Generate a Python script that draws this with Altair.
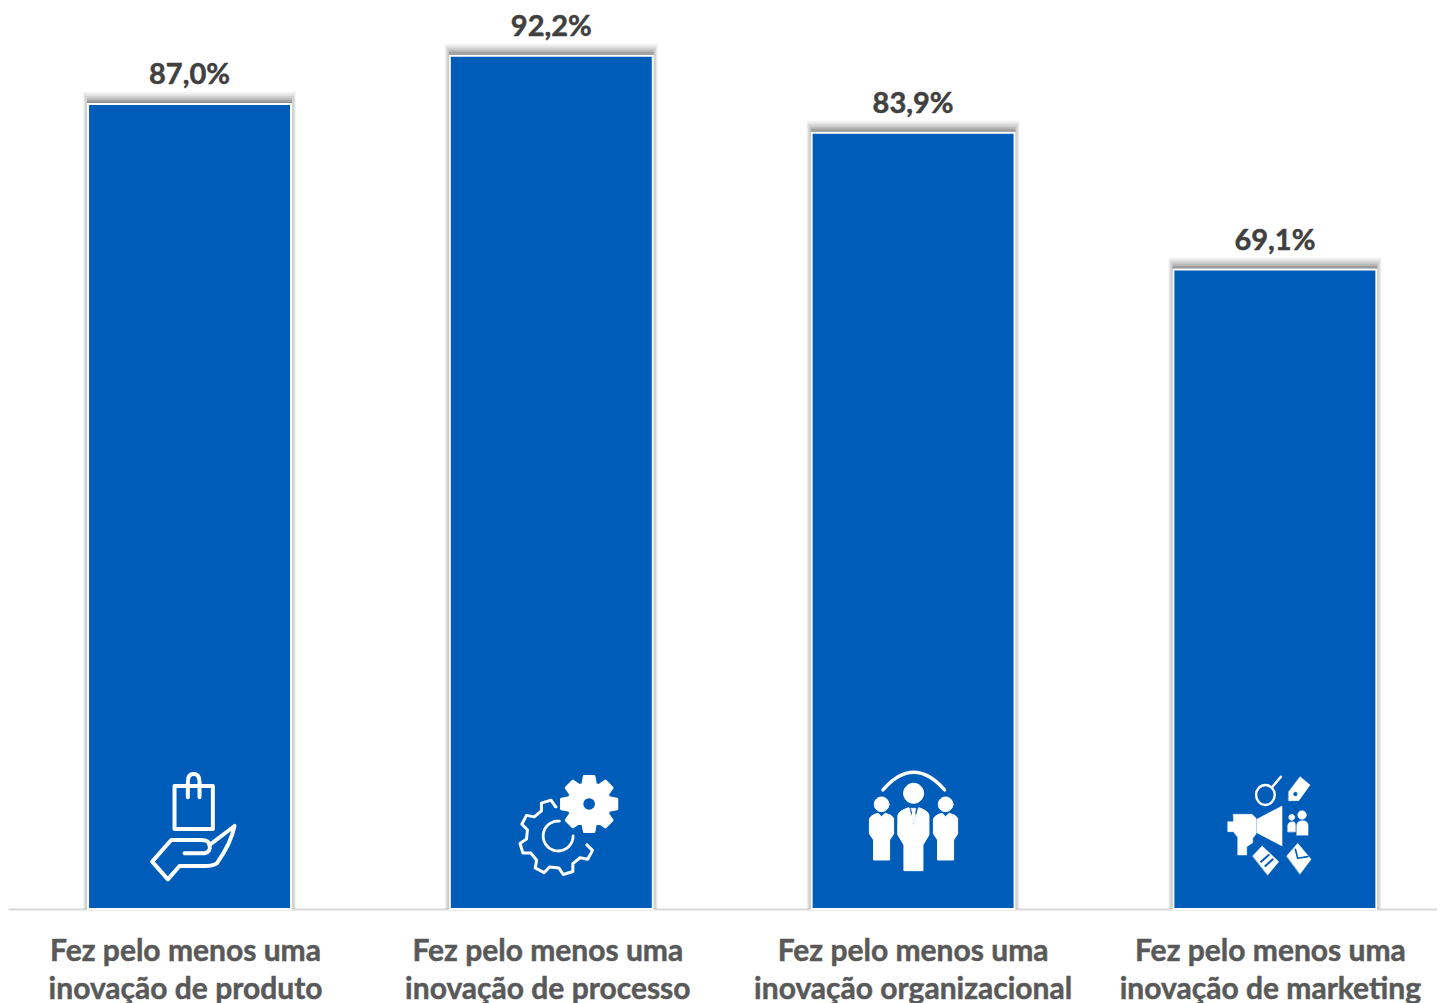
import math
import re
import altair as alt
import pandas as pd

categories = ["produto", "processo", "organizacional", "marketing"]
values = [87.0, 92.2, 83.9, 69.1]
axis_labels = [
    "Fez pelo menos uma\ninovação de produto",
    "Fez pelo menos uma\ninovação de processo",
    "Fez pelo menos uma\ninovação organizacional",
    "Fez pelo menos uma\ninovação de marketing",
]
label_nudges = [-4, -3.5, 0, -4.5]
value_labels = [f"{v:.1f}".replace(".", ",") + "%" for v in values]

BLUE = "#005CB9"
WHITE = "#FFFFFF"
FONT = "Lato"
ICON_Y = 9.08
df = pd.DataFrame({"cat": categories, "value": values, "label": value_labels})
x_scale = alt.Scale(domain=categories, paddingInner=0.439, paddingOuter=0.1944, align=0.569, round=False)
y_scale = alt.Scale(domain=[0, 97.37], nice=False, zero=False)
X = alt.X("cat:N", scale=x_scale, sort=None, title=None,
          axis=alt.Axis(labels=False, ticks=False, grid=False, domainColor="#D9D9D9", domainWidth=2))
Y = alt.Y("value:Q", scale=y_scale, stack=None, title=None, axis=None)


def circle(cx, cy, r, ry=None, reverse=False):
    ry = ry or r
    k = 0.5523
    s = -1 if reverse else 1
    return (f"M{cx+r},{cy} C{cx+r},{cy+s*k*ry} {cx+k*r},{cy+s*ry} {cx},{cy+s*ry} "
            f"C{cx-k*r},{cy+s*ry} {cx-r},{cy+s*k*ry} {cx-r},{cy} "
            f"C{cx-r},{cy-s*k*ry} {cx-k*r},{cy-s*ry} {cx},{cy-s*ry} "
            f"C{cx+k*r},{cy-s*ry} {cx+r},{cy-s*k*ry} {cx+r},{cy} Z ")


def gear(cx, cy, outer, root, teeth, half, closed=True, start=None, end=None):
    pts = []
    if start is not None:
        pts.append((root, start))
    for t in teeth:
        pts += [(root, t - half * 1.25), (outer, t - half * 0.7), (outer, t + half * 0.7), (root, t + half * 1.25)]
    if end is not None:
        pts.append((root, end))
    xy = [(cx + r * math.cos(math.radians(a)), cy + r * math.sin(math.radians(a))) for r, a in pts]
    d = "M" + " L".join(f"{a:.1f},{b:.1f}" for a, b in xy)
    return d + (" Z " if closed else " ")


def arc(cx, cy, r, a0, a1, n=24):
    xy = [(cx + r * math.cos(math.radians(a0 + (a1 - a0) * i / n)),
           cy + r * math.sin(math.radians(a0 + (a1 - a0) * i / n))) for i in range(n + 1)]
    return "M" + " L".join(f"{a:.1f},{b:.1f}" for a, b in xy)


def person(dx):
    return (circle(96 + dx, 133, 22) +
            f"M{60+dx},175 Q{65+dx},165 {85+dx},160 L{96+dx},170 L{107+dx},160 Q{128+dx},165 {132+dx},175 "
            f"L{132+dx},222 L{120+dx},240 L{120+dx},300 L{72+dx},300 L{72+dx},240 L{60+dx},222 Z")


# Icon glyphs: (bar index, path in 3x crop coordinates, fill?, colour, stroke width)
A = [180, 154.5, 190.5, 196.5]
glyphs = [
    (0, "M135,78 L250,78 L250,207 L135,207 Z", False, WHITE, 4),
    (0, "M175,112 L175,65 Q175,42 192,42 Q210,42 210,65 L210,112", False, WHITE, 4),
    (0, "M68,305 L125,240 L215,240 Q238,240 240,255 L315,198 Q305,250 262,310 Q250,318 225,318 L150,318 L115,358 Z", False, WHITE, 4),
    (0, "M165,280 L225,280 Q245,275 240,255", False, WHITE, 4),
    (1, gear(268, 132, 84, 62, [-90, -45, 0, 45, 90, 135, 180, 225], 14) + circle(268, 132, 22, reverse=True), True, WHITE, 3),
    (1, gear(172, 232, 113, 92, [-332, -287, -242, -197, -152, -107], 11, closed=False, start=-346, end=-92), False, WHITE, 3),
    (1, arc(175, 228, 45, -85, -360), False, WHITE, 2.8),
    (2, "M100,90 Q192,-16 285,90", False, WHITE, 3.4),
    (2, person(0), True, WHITE, 1),
    (2, person(192), True, WHITE, 1),
    (2, circle(192, 100, 30), True, WHITE, 1),
    (2, "M145,165 Q148,152 178,143 L192,198 L207,143 Q235,152 238,165 L238,225 L220,255 L220,332 L163,332 L163,255 L145,225 Z", True, WHITE, 1),
    (2, "M184,145 L199,145 L196,158 L199,172 L192,190 L185,172 L188,158 Z", True, WHITE, 0.5),
    (3, "M142,178 L218,138 L218,258 L142,218 Z", True, WHITE, 0.5),
    (3, "M72,163 L128,163 L140,175 L140,222 L130,235 L130,248 L112,260 L112,285 L85,285 L85,232 L72,215 L55,215 L55,185 L72,185 Z", True, WHITE, 0.5),
    (3, circle(168, 105, 28, 30), False, WHITE, 2.4),
    (3, "M188,82 L215,50", False, WHITE, 2.4),
    (3, "M238,95 L272,50 L302,75 L268,122 L238,122 Z " + circle(258, 102, 7, reverse=True), True, WHITE, 0.5),
    (3, circle(247, 172, 9) + circle(278, 165, 13), True, WHITE, 0.5),
    (3, "M235,215 L235,195 Q238,185 250,185 Q258,185 258,195 L258,215 Z M262,225 L262,195 Q265,182 278,182 Q295,182 296,195 L296,225 Z", True, WHITE, 0.5),
    (3, "M130,288 L158,258 L208,305 L175,345 Z", True, WHITE, 0.5),
    (3, "M155,305 L178,285 M168,318 L190,298", False, BLUE, 2),
    (3, "M232,288 L265,250 L305,298 L272,342 Z", True, WHITE, 0.5),
    (3, "M258,268 L265,295 L295,290", False, BLUE, 1.6),
]


def shifted(path, ax, ay=195):
    def repl(m):
        return f"{float(m.group(1)) - ax:.1f},{float(m.group(2)) - ay:.1f}"
    return re.sub(r"(-?[\d.]+),(-?[\d.]+)", repl, path)


layers = []
# soft shadow above and beside each bar
for side, top, op in [(5, 12, 0.05), (4, 10, 0.06), (3, 8, 0.08), (1, 6, 0.10), (1, 4, 0.12), (1, 2, 0.14)]:
    layers.append(
        alt.Chart(df).mark_bar(size=203 + 2 * side, color="#000000", opacity=op, yOffset=-top, y2Offset=0)
        .encode(x=X, y=Y, y2=alt.datum(0))
    )
layers.append(
    alt.Chart(df).mark_bar(color=BLUE, stroke=WHITE, strokeWidth=2).encode(x=X, y=Y, y2=alt.datum(0))
)
layers.append(
    alt.Chart(df).mark_text(font=FONT, fontWeight="bold", fontSize=29, color="#404040", baseline="middle", dy=-29,
                            stroke="#404040", strokeWidth=0.5)
    .encode(x=X, y=Y, text="label:N")
)
for i, text, nudge in zip(range(4), axis_labels, label_nudges):
    row = pd.DataFrame({"cat": [categories[i]], "text": [text]})
    layers.append(
        alt.Chart(row).mark_text(font=FONT, fontWeight="bold", fontSize=30, color="#595959", baseline="middle",
                                 lineBreak="\n", lineHeight=38, dy=43, dx=nudge, stroke="#595959", strokeWidth=0.5)
        .encode(x=X, y=alt.Y(datum=0, scale=y_scale, axis=None, title=None), text="text:N")
    )
for i, path, filled, colour, sw in glyphs:
    row = pd.DataFrame({"cat": [categories[i]]})
    kw = dict(fill=colour) if filled else dict(fill="transparent")
    layers.append(
        alt.Chart(row).mark_point(shape=shifted(path, A[i]), size=4 / 9, filled=filled, opacity=1,
                                  stroke=colour, strokeWidth=sw, strokeCap="round", strokeJoin="round", **kw)
        .encode(x=X, y=alt.Y(datum=ICON_Y, scale=y_scale, axis=None, title=None))
    )

chart = (
    alt.layer(*layers)
    .properties(width=1429, height=901, background="white",
                autosize=alt.AutoSizeParams(type="none"),
                padding={"left": 0, "top": 0, "right": 0, "bottom": 94})
    .configure_view(stroke=None)
)
chart.save("out.html", embed_options={"renderer": "svg", "actions": False})
